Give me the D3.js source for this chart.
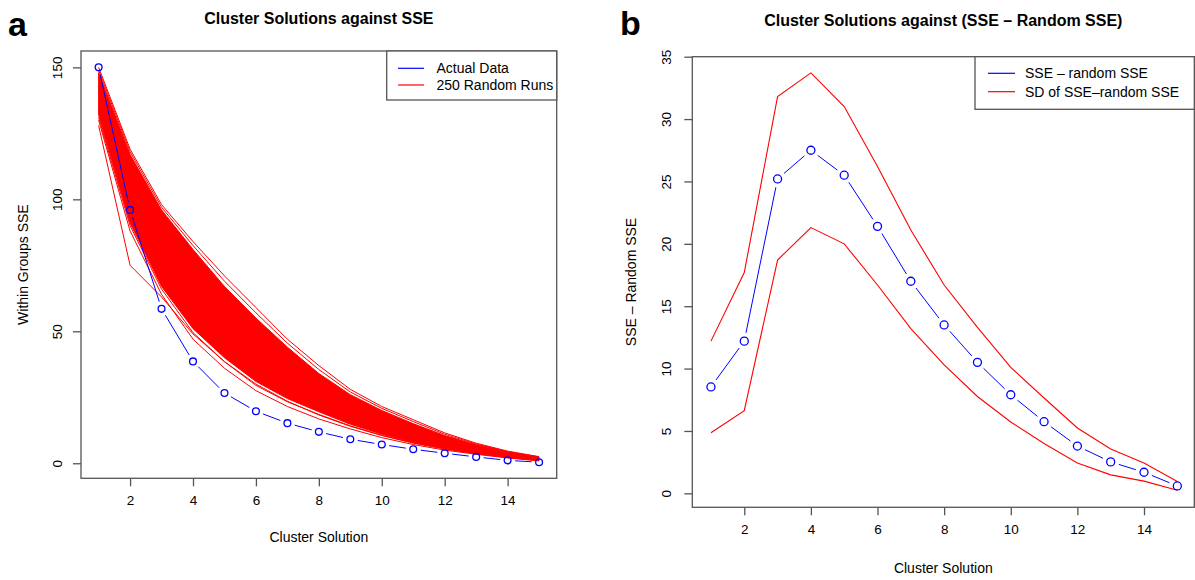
<!DOCTYPE html>
<html lang="en">
<head>
  <meta charset="UTF-8">
  <title>Cluster Solutions</title>
  <script src="https://cdn.jsdelivr.net/npm/d3@7"></script>
  <style>
    body {
      margin: 0;
      background: #fff;
      font-family: "Liberation Sans", Arial, sans-serif;
    }
    svg text { fill: #000; }
  </style>
</head>
<body>
  <svg id="chart" width="1195" height="580"></svg>

  <script>
    // cluster solutions on the x axis
    const clusters = [1, 2, 3, 4, 5, 6, 7, 8, 9, 10, 11, 12, 13, 14, 15];

    // panel a: actual data
    const actualSSE = [150, 96, 58.5, 38.6, 26.6, 19.7, 15.2, 11.9, 9.1, 7.1, 5.3, 3.8, 2.4, 1.1, 0.4];

    // panel a: the dense band of the 250 random runs (read as its inner edges)
    const bandUpper = [148, 117, 96, 81, 67, 55, 44, 34, 26, 20, 15, 10.5, 7, 4.3, 2.3];
    const bandLower = [132, 91, 67, 51, 40, 31, 24.5, 19.5, 14.8, 11, 8, 5.7, 3.8, 2.3, 1.1];

    // panel a: single runs that stand apart from the band
    const runHigh1 = [150, 119, 98, 84, 71, 59, 47, 37, 28, 21.5, 16.5, 11.5, 7.6, 4.6, 2.5];
    const runHigh2 = [149, 118, 97, 82.5, 69, 57, 45.5, 35.5, 27, 20.8, 15.8, 11, 7.3, 4.4, 2.4];
    const runLow1 = [131, 90, 66, 49.5, 38.5, 29.5, 23.3, 18.5, 14.2, 10.6, 7.8, 5.5, 3.7, 2.2, 1.0];
    const runLow2 = [130, 88, 64, 47, 36, 27.5, 21.5, 16.8, 13, 9.7, 7.1, 5.0, 3.4, 2.0, 0.9];
    const runLow3 = [128, 75, 63, 49, 38.5, 30, 23.5, 18.3, 14, 10.5, 7.6, 5.4, 3.6, 2.2, 1.1];

    // panel b
    const diffSSE = [8.53, 12.2, 25.2, 27.5, 25.5, 21.4, 17.0, 13.5, 10.5, 7.9, 5.74, 3.79, 2.52, 1.69, 0.59];
    const sdUpper = [12.2, 17.7, 31.8, 33.7, 31.0, 26.2, 21.1, 16.7, 13.3, 10.1, 7.64, 5.24, 3.55, 2.43, 0.95];
    const sdLower = [4.86, 6.63, 18.7, 21.3, 20.0, 16.7, 13.2, 10.3, 7.76, 5.72, 4.0, 2.43, 1.48, 0.98, 0.24];

    const xTicks = [2, 4, 6, 8, 10, 12, 14];
    const yTicksA = [0, 50, 100, 150];
    const yTicksB = [0, 5, 10, 15, 20, 25, 30, 35];

    const BLUE = "#0000ff", RED = "#ff0000", AXIS = "#555";
    const svg = d3.select("#chart");

    function panel(cfg) {
      const x = d3.scaleLinear().domain(cfg.xDomain).range([cfg.left, cfg.right]);
      const y = d3.scaleLinear().domain(cfg.yDomain).range([cfg.bottom, cfg.top]);
      const g = svg.append("g");

      g.append("rect")
        .attr("x", cfg.left).attr("y", cfg.top)
        .attr("width", cfg.right - cfg.left).attr("height", cfg.bottom - cfg.top)
        .attr("fill", "none").attr("stroke", AXIS).attr("stroke-width", 1.3);

      // x axis
      const xa = g.append("g").attr("transform", `translate(0,${cfg.bottom})`)
        .call(d3.axisBottom(x).tickValues(xTicks).tickSize(8).tickPadding(9).tickFormat(d3.format("d")));
      xa.select(".domain").remove();
      xa.selectAll("line").attr("stroke", AXIS).attr("stroke-width", 1.3);
      xa.selectAll("text").attr("font-size", 13.5).attr("font-family", "Liberation Sans, Arial, sans-serif");

      // y axis, labels turned like R's default
      const ya = g.append("g").attr("transform", `translate(${cfg.left},0)`)
        .call(d3.axisLeft(y).tickValues(cfg.yTicks).tickSize(8).tickFormat(d3.format("d")));
      ya.select(".domain").remove();
      ya.selectAll("line").attr("stroke", AXIS).attr("stroke-width", 1.3);
      ya.selectAll("text")
        .attr("font-size", 13.5).attr("font-family", "Liberation Sans, Arial, sans-serif")
        .attr("x", 0).attr("dy", null)
        .attr("text-anchor", "middle").attr("dominant-baseline", "central")
        .attr("transform", `translate(${-cfg.yLabelOff},0) rotate(-90)`);

      // titles
      g.append("text").attr("x", (cfg.left + cfg.right) / 2).attr("y", cfg.titleY)
        .attr("text-anchor", "middle").attr("font-size", 16).attr("font-weight", "bold").text(cfg.title);
      g.append("text").attr("x", cfg.tagX).attr("y", cfg.tagY)
        .attr("font-size", 34).attr("font-weight", "bold").text(cfg.tag);
      g.append("text").attr("x", (cfg.left + cfg.right) / 2).attr("y", cfg.xLabelY)
        .attr("text-anchor", "middle").attr("dominant-baseline", "central")
        .attr("font-size", 14).text("Cluster Solution");
      g.append("text")
        .attr("transform", `translate(${cfg.yLabelX},${(cfg.top + cfg.bottom) / 2}) rotate(-90)`)
        .attr("text-anchor", "middle").attr("dominant-baseline", "central")
        .attr("font-size", 14).text(cfg.yLabel);

      return { x, y, g };
    }

    function plainLine(p, values, color, width) {
      const line = d3.line().x((d, i) => p.x(clusters[i])).y(d => p.y(d));
      p.g.append("path").attr("d", line(values))
        .attr("fill", "none").attr("stroke", color).attr("stroke-width", width || 1);
    }

    // R type = "b": points joined by lines that stop short of each point
    function pointLine(p, values, color, r, gap) {
      const pts = values.map((v, i) => [p.x(clusters[i]), p.y(v)]);
      for (let i = 0; i < pts.length - 1; i++) {
        const [x0, y0] = pts[i], [x1, y1] = pts[i + 1];
        const len = Math.hypot(x1 - x0, y1 - y0);
        if (len <= 2 * gap) continue;
        const ux = (x1 - x0) / len, uy = (y1 - y0) / len;
        p.g.append("line")
          .attr("x1", x0 + ux * gap).attr("y1", y0 + uy * gap)
          .attr("x2", x1 - ux * gap).attr("y2", y1 - uy * gap)
          .attr("stroke", color).attr("stroke-width", 1);
      }
      p.g.selectAll(null).data(pts).join("circle")
        .attr("cx", d => d[0]).attr("cy", d => d[1]).attr("r", r)
        .attr("fill", "none").attr("stroke", color).attr("stroke-width", 1.3);
    }

    function legend(p, box, rows) {
      p.g.append("rect").attr("x", box.x).attr("y", box.y).attr("width", box.w).attr("height", box.h)
        .attr("fill", "#fff").attr("stroke", AXIS).attr("stroke-width", 1.3);
      rows.forEach((r, i) => {
        const yy = box.rowY[i];
        p.g.append("line").attr("x1", box.lineX[0]).attr("x2", box.lineX[1])
          .attr("y1", yy).attr("y2", yy).attr("stroke", r.color).attr("stroke-width", 1.2);
        p.g.append("text").attr("x", box.textX).attr("y", yy)
          .attr("dominant-baseline", "central").attr("font-size", 14).text(r.label);
      });
    }

    // ---- panel a ----
    const pa = panel({
      left: 81, right: 556.7, top: 51, bottom: 478.3,
      xDomain: [0.44, 15.56], yDomain: [-5.7, 156.2], yTicks: yTicksA,
      yLabelOff: 24, title: "Cluster Solutions against SSE", titleY: 23.5,
      tag: "a", tagX: 8, tagY: 36, xLabelY: 537, yLabelX: 23, yLabel: "Within Groups SSE"
    });

    const band = d3.area()
      .x((d, i) => pa.x(clusters[i]))
      .y0((d, i) => pa.y(bandLower[i]))
      .y1((d, i) => pa.y(bandUpper[i]));
    pa.g.append("path").attr("d", band(clusters)).attr("fill", RED).attr("stroke", RED).attr("stroke-width", 1);
    [runHigh1, runHigh2, runLow1, runLow2, runLow3].forEach(r => plainLine(pa, r, RED, 1));
    pointLine(pa, actualSSE, BLUE, 3.4, 7.5);

    legend(pa, { x: 386.7, y: 51, w: 170, h: 49, lineX: [398, 424], textX: 436.5, rowY: [68.3, 85] }, [
      { color: BLUE, label: "Actual Data" },
      { color: RED, label: "250 Random Runs" }
    ]);

    // ---- panel b ----
    const pb = panel({
      left: 692.3, right: 1194.3, top: 56.7, bottom: 507.3,
      xDomain: [0.44, 15.51], yDomain: [-1.12, 35], yTicks: yTicksB,
      yLabelOff: 26, title: "Cluster Solutions against (SSE \u2013 Random SSE)", titleY: 26,
      tag: "b", tagX: 620, tagY: 35, xLabelY: 568, yLabelX: 631, yLabel: "SSE \u2013 Random SSE"
    });

    plainLine(pb, sdUpper, RED, 1.1);
    plainLine(pb, sdLower, RED, 1.1);
    pointLine(pb, diffSSE, BLUE, 4, 8.5);

    legend(pb, { x: 975, y: 56.7, w: 219.3, h: 52.6, lineX: [988, 1015], textX: 1025, rowY: [73.3, 91.7] }, [
      { color: BLUE, label: "SSE \u2013 random SSE" },
      { color: RED, label: "SD of SSE\u2013random SSE" }
    ]);
  </script>
</body>
</html>
